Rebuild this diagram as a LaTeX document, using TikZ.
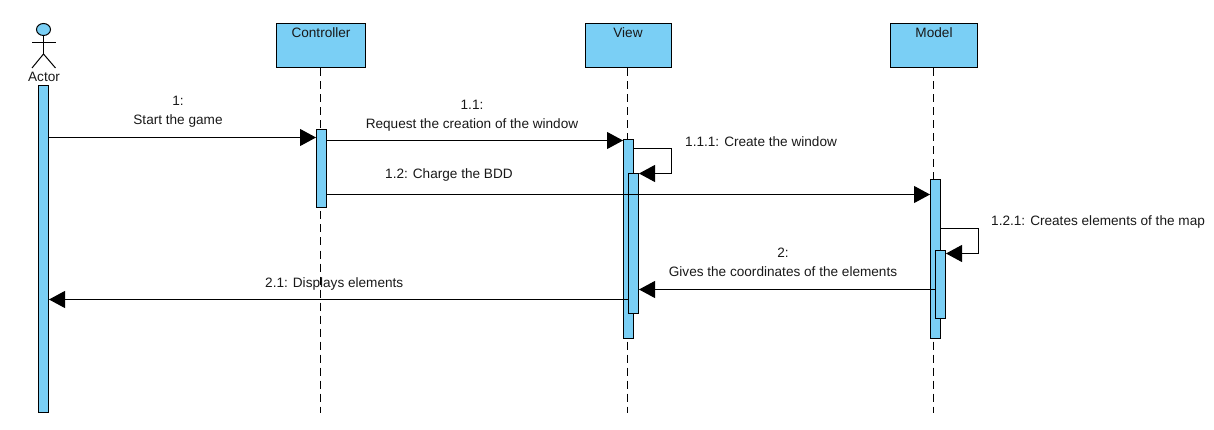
\documentclass[tikz,border=0pt]{standalone}
\usepackage{fontspec}
\setmainfont{Liberation Sans}
\usetikzlibrary{arrows.meta,shapes.geometric}
\definecolor{lifeblue}{HTML}{7ACFF5}
\tikzset{
  every node/.style={font=\fontsize{13.6}{19}\selectfont, text=black!90},
  headbox/.style={draw=black, fill=lifeblue, line width=1pt, minimum height=44pt, inner sep=0pt, anchor=north, text depth=0pt},
  bar/.style={draw=black, fill=lifeblue, line width=1pt, minimum width=10pt, inner sep=0pt, anchor=north},
  lifeline/.style={draw=black, line width=1pt, dash pattern=on 8pt off 5pt},
  msg/.style={draw=black, line width=1pt, -{Triangle[length=16pt,width=17pt,color=black]}},
  lbl/.style={inner sep=0pt, align=center},
  stick/.style={draw=black, line width=1pt}
}
\begin{document}
\begin{tikzpicture}[x=1pt,y=-1pt]
\useasboundingbox (0,0) rectangle (1214,430);
% heads
\node[headbox, minimum width=89pt] (ctrl) at (321,23.5) {};
\node[headbox, minimum width=86pt] (view) at (628.5,23.5) {};
\node[headbox, minimum width=87pt] (model) at (934,23.5) {};
\node[lbl] at (321,33) {Controller};
\node[lbl] at (628,33) {View};
\node[lbl] at (934,33) {Model};
% lifeline ends
\coordinate (ctrlend) at (320.5,413);
\coordinate (viewend) at (627.5,413);
\coordinate (modelend) at (933.5,413);
\draw[lifeline] (ctrl.south -| ctrlend) -- (ctrlend);
\draw[lifeline] (view.south -| viewend) -- (viewend);
\draw[lifeline] (model.south -| modelend) -- (modelend);
% actor
\node[draw=black, fill=lifeblue, line width=1pt, ellipse, minimum width=14pt, minimum height=12pt, inner sep=0pt] (head) at (43.5,29.5) {};
\coordinate (armL) at (32,43);
\coordinate (armR) at (55.5,43);
\coordinate (hip) at (43.5,54);
\coordinate (legL) at (32,68);
\coordinate (legR) at (55.5,68);
\draw[stick] (head.south) -- (hip);
\draw[stick] (armL) -- (armR);
\draw[stick] (legL) -- (hip) -- (legR);
\node[lbl] (actor) at (44,77) {Actor};
% activation bars
\node[bar, minimum height=326pt] (abar) at (43.5,85.5) {};
\node[bar, minimum height=78pt] (cbar) at (321.5,129.5) {};
\node[bar, minimum height=198pt] (vbar) at (628.5,139.5) {};
\node[bar, minimum height=139pt] (vbar2) at (633.5,173.5) {};
\node[bar, minimum height=158pt] (mbar) at (935.5,179.5) {};
\node[bar, minimum height=68pt] (mbar2) at (940.5,250) {};
% message levels
\coordinate (m1) at (0,137.5);
\coordinate (m11) at (0,140.5);
\coordinate (m12) at (0,194.5);
\coordinate (m2) at (0,289.5);
\coordinate (m21) at (0,299.5);
\coordinate (s1a) at (671.5,148.5);
\coordinate (s1b) at (671.5,173.5);
\coordinate (s2a) at (978.5,228.5);
\coordinate (s2b) at (978.5,253.5);
% messages
\draw[msg] (abar.east |- m1) -- (cbar.west |- m1);
\draw[msg] (cbar.east |- m11) -- (vbar.west |- m11);
\draw[msg] (cbar.east |- m12) -- (mbar.west |- m12);
\draw[msg] (mbar2.west |- m2) -- (vbar2.east |- m2);
\draw[msg] (vbar2.west |- m21) -- (abar.east |- m21);
\draw[msg] (vbar.east |- s1a) -- (s1a) -- (s1b) -- (vbar2.east |- s1b);
\draw[msg] (mbar.east |- s2a) -- (s2a) -- (s2b) -- (mbar2.east |- s2b);
% labels
\node[lbl] at (178,112) {1:\\Start the game};
\node[lbl] at (472,116) {1.1:\\Request the creation of the window};
\node[lbl, anchor=west] at (685,142) {1.1.1: Create the window};
\node[lbl, anchor=west] at (385,174.5) {1.2: Charge the BDD};
\node[lbl, anchor=west] at (991,221.5) {1.2.1: Creates elements of the map};
\node[lbl] at (783,262) {2:\\Gives the coordinates of the elements};
\node[lbl, anchor=west] at (265,283.5) {2.1: Displays elements};
\end{tikzpicture}
\end{document}
